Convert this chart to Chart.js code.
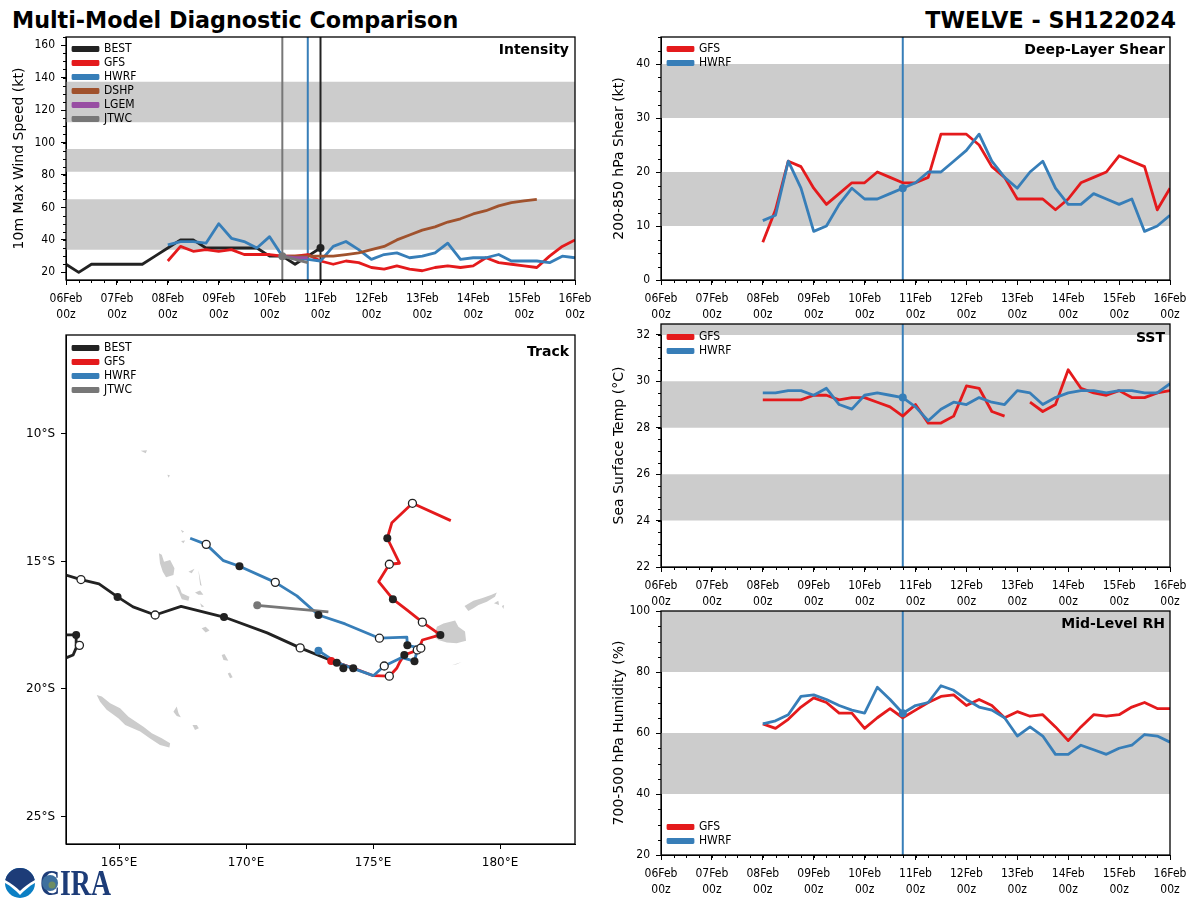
<!DOCTYPE html>
<html>
<head>
<meta charset="utf-8">
<title>Multi-Model Diagnostic Comparison</title>
<script src="https://cdn.jsdelivr.net/npm/chart.js@4/dist/chart.umd.min.js"></script>
<style>
  html, body { margin: 0; padding: 0; background: #fff; }
  #page { position: relative; width: 1200px; height: 900px; overflow: hidden; font-family: "DejaVu Sans", sans-serif; color: #000; }
  canvas { position: absolute; }
  .fig-title { position: absolute; top: 6px; font-size: 22.25px; font-weight: bold; white-space: nowrap; line-height: 28px; }
  .panel-name { position: absolute; font-size: 14px; font-weight: bold; white-space: nowrap; line-height: 16px; }
  #logo { position: absolute; left: 4px; top: 866px; }
</style>
</head>
<body>
<div id="page">
  <div class="fig-title" style="left:12px">Multi-Model Diagnostic Comparison</div>
  <div class="fig-title" style="right:24px">TWELVE - SH122024</div>
  <canvas id="intensity" width="600" height="298" style="left:0;top:27px"></canvas>
  <canvas id="shear" width="600" height="298" style="left:600px;top:27px"></canvas>
  <canvas id="sst" width="600" height="298" style="left:600px;top:314px"></canvas>
  <canvas id="rh" width="600" height="299" style="left:600px;top:601px"></canvas>
  <canvas id="track" width="600" height="564" style="left:0;top:325px"></canvas>
  <div class="panel-name" style="right:631px;top:41px">Intensity</div>
  <div class="panel-name" style="right:35px;top:41px">Deep-Layer Shear</div>
  <div class="panel-name" style="right:631px;top:343px">Track</div>
  <div class="panel-name" style="right:35px;top:329px">SST</div>
  <div class="panel-name" style="right:35px;top:615px">Mid-Level RH</div>
  <svg id="logo" width="112" height="34" viewBox="0 0 112 34">
    <circle cx="16" cy="17" r="15" fill="#0b7fc4"/>
    <path d="M1 17 A15 15 0 0 1 31 17 C25 19 21 22 16 25 C11 22 7 19 1 17 Z" fill="#1d3c78"/>
    <path d="M1 14 C7 17 12 21 16 25 C20 21 25 17 31 14 L31 17 C25 20 20 25 16 29 C12 25 7 20 1 17 Z" fill="#fff"/>
    <text x="36" y="29" font-family="Liberation Serif" font-weight="bold" font-size="36" fill="#1d3c78" textLength="71" lengthAdjust="spacingAndGlyphs">CIRA</text>
    <circle cx="46" cy="17" r="8" fill="#3d6f9e"/>
    <circle cx="48" cy="19" r="3.5" fill="#6d8c62"/>
  </svg>
</div>
<script>
// time axis (hours after 06Feb 00z)
const TICK_HOURS = [0, 24, 48, 72, 96, 120, 144, 168, 192, 216, 240];
const TICK_DAYS = ['06Feb', '07Feb', '08Feb', '09Feb', '10Feb', '11Feb', '12Feb', '13Feb', '14Feb', '15Feb', '16Feb'];

// intensity, kt, one value each 6 h
const BEST_WIND = [25, 20, 25, 25, 25, 25, 25, 30, 35, 40, 40, 35, 35, 35, 35, 35, 30, 30, 25, 30, 35];
const GFS_WIND = [27, 36, 33, 34, 33, 34, 31, 31, 31, 30, 30, 31, 27, 25, 27, 26, 23, 22, 24, 22, 21, 23, 24, 23, 24, 29, 26, 25, 24, 23, 30, 36, 40];
const HWRF_WIND = [37, 39, 39, 38, 50, 41, 39, 35, 42, 30, 29, 28, 27, 36, 39, 34, 28, 31, 32, 29, 30, 32, 38, 28, 29, 29, 31, 27, 27, 27, 26, 30, 29];
const DSHP_WIND = [30, 30, 30, 30, 30, 31, 32, 34, 36, 40, 43, 46, 48, 51, 53, 56, 58, 61, 63, 64, 65];
const LGEM_WIND = [30, 29, 29];
const JTWC_WIND = [30, 28, 26];
const WIND_BANDS = [[34, 65], [82, 96], [112.5, 137.5]];
const WIND_TICKS = [20, 40, 60, 80, 100, 120, 140, 160];

// shear, kt
const GFS_SHEAR = [7, 13, 22, 21, 17, 14, 16, 18, 18, 20, 19, 18, 18, 19, 27, 27, 27, 25, 21, 19, 15, 15, 15, 13, 15, 18, 19, 20, 23, 22, 21, 13, 17];
const HWRF_SHEAR = [11, 12, 22, 17, 9, 10, 14, 17, 15, 15, 16, 17, 18, 20, 20, 22, 24, 27, 22, 19, 17, 20, 22, 17, 14, 14, 16, 15, 14, 15, 9, 10, 12];
const SHEAR_BANDS = [[10, 20], [30, 40]];
const SHEAR_TICKS = [0, 10, 20, 30, 40];

// sea surface temperature, deg C
const GFS_SST = [29.2, 29.2, 29.2, 29.2, 29.4, 29.4, 29.2, 29.3, 29.3, 29.1, 28.9, 28.5, 29.0, 28.2, 28.2, 28.5, 29.8, 29.7, 28.7, 28.5, null, 29.1, 28.7, 29.0, 30.5, 29.7, 29.5, 29.4, 29.6, 29.3, 29.3, 29.5, 29.6];
const HWRF_SST = [29.5, 29.5, 29.6, 29.6, 29.4, 29.7, 29.0, 28.8, 29.4, 29.5, 29.4, 29.3, 28.9, 28.3, 28.8, 29.1, 29.0, 29.3, 29.1, 29.0, 29.6, 29.5, 29.0, 29.3, 29.5, 29.6, 29.6, 29.5, 29.6, 29.6, 29.5, 29.5, 29.9];
const SST_BANDS = [[24, 26], [28, 30], [32, 33]];
const SST_TICKS = [22, 24, 26, 28, 30, 32];

// mid-level humidity, %
const GFS_RH = [63, 61.5, 64.5, 68.5, 71.5, 70, 66.5, 66.5, 61.5, 65, 68, 65, 67.5, 70, 72, 72.5, 69, 71, 69, 65, 67, 65.5, 66, 62, 57.5, 62, 66, 65.5, 66, 68.5, 70, 68, 68];
const HWRF_RH = [63, 64, 66, 72, 72.5, 71, 69, 67.5, 66.5, 75, 71, 66.5, 69, 70, 75.5, 74, 71, 68.5, 67.5, 65, 59, 62, 59, 53, 53, 56, 54.5, 53, 55, 56, 59.5, 59, 57];
const RH_BANDS = [[40, 60], [80, 100]];
const RH_TICKS = [20, 40, 60, 80, 100];

// tracks, [lon, lat]
const BEST_TRACK = [[162.60, -18.86], [162.91, -18.78], [163.19, -18.67], [163.31, -18.39], [163.31, -17.88], [162.28, -17.88], [162.28, -15.33], [162.91, -15.53], [163.50, -15.71], [164.21, -15.88], [164.94, -16.39], [165.55, -16.78], [166.42, -17.10], [167.44, -16.76], [169.13, -17.18], [170.83, -17.80], [172.13, -18.39], [173.57, -18.97], [174.22, -19.19]];
const GFS_TRACK = [[173.35, -18.90], [174.22, -19.18], [175.01, -19.48], [175.64, -19.50], [175.93, -19.19], [176.06, -18.93], [176.23, -18.67], [176.78, -18.47], [176.94, -18.08], [177.65, -17.88], [176.94, -17.38], [176.33, -16.90], [175.78, -16.48], [175.22, -15.79], [175.64, -15.11], [176.04, -15.07], [175.56, -14.09], [175.74, -13.48], [176.55, -12.72], [178.06, -13.40]];
const HWRF_TRACK = [[172.85, -18.50], [173.57, -18.97], [175.01, -19.48], [175.44, -19.10], [176.13, -18.77], [176.63, -18.91], [176.74, -18.47], [176.88, -18.40], [176.35, -18.29], [176.33, -17.97], [175.25, -18.01], [173.90, -17.45], [172.85, -17.10], [172.00, -16.35], [171.15, -15.82], [169.74, -15.19], [169.11, -14.97], [168.43, -14.33], [167.80, -14.09]];
const JTWC_TRACK = [[170.44, -16.72], [173.24, -16.98]];
const TRACK_FILLED = [[163.31, -17.88], [164.94, -16.39], [169.13, -17.18], [173.57, -18.97], [173.83, -19.19], [174.22, -19.19], [175.56, -14.09], [175.78, -16.48], [177.65, -17.88], [176.23, -18.67], [172.85, -17.10], [169.74, -15.19], [176.35, -18.29], [176.63, -18.91]];
const TRACK_OPEN = [[163.44, -18.29], [163.50, -15.71], [166.42, -17.10], [172.13, -18.39], [176.55, -12.72], [175.64, -15.11], [176.94, -17.38], [176.74, -18.47], [175.64, -19.50], [168.43, -14.33], [171.15, -15.82], [175.25, -18.01], [176.88, -18.40], [175.44, -19.10]];
const LON_TICKS = [165, 170, 175, 180];
const LAT_TICKS = [-10, -15, -20, -25];

// land outlines, [lon, lat]
const LAND = [
  [[164.12, -20.24], [164.32, -20.30], [164.65, -20.56], [165.04, -20.76], [165.37, -21.09], [165.96, -21.48], [166.29, -21.74], [166.68, -21.93], [167.01, -22.13], [166.98, -22.30], [166.61, -22.20], [166.22, -21.94], [165.83, -21.67], [165.24, -21.41], [164.97, -21.15], [164.51, -20.82], [164.25, -20.50]],
  [[166.57, -14.68], [166.68, -14.74], [166.77, -15.01], [167.01, -14.94], [167.18, -15.27], [167.14, -15.53], [166.85, -15.62], [166.72, -15.40], [166.61, -15.07]],
  [[167.23, -15.92], [167.38, -16.01], [167.47, -16.25], [167.77, -16.38], [167.73, -16.54], [167.47, -16.48], [167.34, -16.18]],
  [[167.73, -15.40], [167.97, -15.29], [167.86, -15.46]],
  [[168.12, -15.33], [168.25, -15.96], [168.19, -15.92]],
  [[167.99, -16.22], [168.19, -16.14], [168.32, -16.31], [168.12, -16.31]],
  [[168.19, -16.64], [168.35, -16.77], [168.25, -16.80]],
  [[168.25, -17.62], [168.41, -17.56], [168.56, -17.71], [168.41, -17.79]],
  [[169.04, -18.67], [169.15, -18.63], [169.30, -18.89], [169.11, -18.86]],
  [[169.28, -19.39], [169.37, -19.35], [169.47, -19.54], [169.37, -19.58]],
  [[167.43, -13.76], [167.56, -13.83], [167.49, -13.87]],
  [[167.44, -14.20], [167.60, -14.18], [167.53, -14.29]],
  [[165.85, -10.66], [166.10, -10.64], [166.05, -10.76]],
  [[166.90, -11.60], [167.00, -11.62], [166.95, -11.72]],
  [[167.14, -20.89], [167.27, -20.69], [167.34, -20.95], [167.43, -21.11], [167.27, -21.06]],
  [[167.89, -21.41], [168.06, -21.41], [168.14, -21.54], [167.99, -21.61]],
  [[177.51, -17.56], [177.77, -17.43], [178.23, -17.32], [178.36, -17.56], [178.62, -17.75], [178.66, -18.11], [178.29, -18.21], [177.90, -18.18], [177.57, -18.08], [177.41, -17.95]],
  [[178.60, -16.75], [178.95, -16.54], [179.28, -16.44], [179.67, -16.31], [179.87, -16.22], [179.80, -16.38], [179.48, -16.58], [179.15, -16.71], [178.95, -16.84], [178.75, -16.94]],
  [[179.76, -16.64], [179.93, -16.54], [179.96, -16.71]],
  [[180.07, -16.75], [180.16, -16.71], [180.13, -16.86]],
  [[178.10, -19.07], [178.49, -18.94], [178.29, -19.03]]
];

const RED = '#e41a1c', BLUE = '#377eb8', BLACK = '#222222', BROWN = '#a0522d', PURPLE = '#984ea3', GREY = '#777777', BAND = '#cccccc';
const NARROW = "'DejaVu Sans Condensed', 'DejaVu Sans', sans-serif";
const WIDE = "'DejaVu Sans', sans-serif";

const toXY = (start, values) => values.map((y, i) => ({ x: start + i * 6, y: y === null ? NaN : y }));
const toLonLat = pairs => pairs.map(p => ({ x: p[0], y: p[1] }));

// frame, minor ticks, legend placed inside the axes and above the bands
const panelExtras = {
  id: 'panelExtras',
  beforeLayout(chart) {
    const legend = chart.legend;
    legend._layers = () => [{ z: 10, draw: area => legend.draw(area) }];
  },
  afterLayout(chart, args, opts) {
    const a = chart.chartArea;
    chart.legend.left = a.left + 5;
    chart.legend.top = a.top + opts.legendShift;
    chart.legend.bottom = a.bottom + opts.legendShift;
  },
  afterDatasetsDraw(chart, args, opts) {
    const { ctx, chartArea: a, scales } = chart;
    ctx.save();
    ctx.strokeStyle = '#000';
    ctx.lineWidth = 1;
    ctx.beginPath();
    if (opts.minorX) {
      for (let v = scales.x.min; v <= scales.x.max; v += opts.minorX) {
        const px = Math.round(scales.x.getPixelForValue(v)) + 0.5;
        ctx.moveTo(px, a.bottom);
        ctx.lineTo(px, a.bottom + 3);
      }
    }
    if (opts.minorY) {
      const first = Math.ceil(scales.y.min / opts.minorY) * opts.minorY;
      for (let v = first; v <= scales.y.max; v += opts.minorY) {
        const py = Math.round(scales.y.getPixelForValue(v)) + 0.5;
        ctx.moveTo(a.left, py);
        ctx.lineTo(a.left - 3, py);
      }
    }
    ctx.stroke();
    ctx.lineWidth = 1.3;
    ctx.strokeRect(a.left, a.top, a.right - a.left, a.bottom - a.top);
    ctx.restore();
  }
};

function line(label, color, data, order) {
  return { label, data, borderColor: color, backgroundColor: color, borderWidth: 2.8, pointRadius: 0, showLine: true, order, borderJoinStyle: 'round' };
}
function band(range, xMin, xMax) {
  return { data: [{ x: xMin, y: range[1] }, { x: xMax, y: range[1] }], showLine: true, borderWidth: 0, borderColor: 'transparent', pointRadius: 0, backgroundColor: BAND, fill: { value: range[0] }, order: 100 };
}
function marker(points, fill, stroke, order, radius) {
  return { data: points, backgroundColor: fill, borderColor: stroke, borderWidth: stroke === fill ? 0 : 1.3, pointRadius: radius || 4, showLine: false, order };
}
function vline(hour, color, yMin, yMax) {
  return { data: [{ x: hour, y: yMin }, { x: hour, y: yMax }], borderColor: color, borderWidth: 2, pointRadius: 0, showLine: true, order: 50 };
}

function legendOptions(align) {
  return {
    display: true,
    position: 'chartArea',
    align,
    labels: {
      boxWidth: 25, boxHeight: 3, padding: 2, color: '#000',
      font: { family: NARROW, size: 12 },
      filter: item => !!item.text,
      sort: (a, b) => a.datasetIndex - b.datasetIndex
    }
  };
}

function drawChart(id, datasets, o) {
  const tickFont = { family: o.tickFamily || NARROW, size: 12, lineHeight: 1.3 };
  new Chart(document.getElementById(id), {
    type: 'scatter',
    data: { datasets },
    plugins: [panelExtras],
    options: {
      responsive: false,
      animation: false,
      events: [],
      layout: { padding: { left: 0, top: o.top, right: o.right, bottom: 0 } },
      scales: {
        x: {
          type: 'linear', min: o.xMin, max: o.xMax,
          grid: { drawOnChartArea: false, tickLength: 5, tickColor: '#000' },
          border: { color: '#000' },
          afterBuildTicks: axis => { axis.ticks = o.xTicks.map(value => ({ value })); },
          afterFit: axis => { axis.height = o.xHeight; axis.paddingLeft = 0; axis.paddingRight = 0; },
          ticks: { maxRotation: 0, autoSkip: false, color: '#000', font: tickFont, padding: o.xPad, callback: o.xLabel }
        },
        y: {
          type: 'linear', min: o.yMin, max: o.yMax,
          grid: { drawOnChartArea: false, tickLength: 5, tickColor: '#000' },
          border: { color: '#000' },
          afterBuildTicks: axis => { axis.ticks = o.yTicks.map(value => ({ value })); },
          afterFit: axis => { axis.width = o.left; axis.paddingTop = 0; axis.paddingBottom = 0; },
          ticks: { autoSkip: false, color: '#000', font: tickFont, padding: 6, callback: o.yLabel || (v => v) },
          title: { display: !!o.yTitle, text: o.yTitle, color: '#000', font: { family: WIDE, size: 14 }, padding: { top: 11, bottom: 0 } }
        }
      },
      plugins: {
        legend: legendOptions(o.legendAlign || 'start'),
        tooltip: { enabled: false },
        panelExtras: { minorX: o.minorX, minorY: o.minorY, legendShift: o.legendShift }
      }
    }
  });
}

function timePanel(id, series, bands, lines, dots, o) {
  const ds = [];
  series.forEach((s, i) => ds.push(line(s[0], s[1], toXY(s[2], s[3]), 40 - i)));
  bands.forEach(b => ds.push(band(b, 0, 240)));
  lines.forEach(l => ds.push(vline(l[0], l[1], o.yMin, o.yMax)));
  dots.forEach(d => ds.push(marker([{ x: d[0], y: d[1] }], d[2], d[2], 1)));
  drawChart(id, ds, Object.assign({
    xMin: 0, xMax: 240, xTicks: TICK_HOURS, minorX: 6, xHeight: 45, xPad: 6,
    xLabel: (v, i) => [TICK_DAYS[i], '00z']
  }, o));
}

timePanel('intensity',
  [['BEST', BLACK, 0, BEST_WIND], ['GFS', RED, 48, GFS_WIND], ['HWRF', BLUE, 48, HWRF_WIND],
   ['DSHP', BROWN, 102, DSHP_WIND], ['LGEM', PURPLE, 102, LGEM_WIND], ['JTWC', GREY, 102, JTWC_WIND]],
  WIND_BANDS,
  [[102, GREY], [114, BLUE], [120, BLACK]],
  [[120, 35, BLACK], [102, 30, GREY]],
  { top: 10, right: 25, left: 66, yMin: 15.3, yMax: 165, yTicks: WIND_TICKS, minorY: 5, yTitle: '10m Max Wind Speed (kt)', legendShift: 4 });

timePanel('shear',
  [['GFS', RED, 48, GFS_SHEAR], ['HWRF', BLUE, 48, HWRF_SHEAR]],
  SHEAR_BANDS, [[114, BLUE]], [[114, 17, BLUE]],
  { top: 10, right: 30, left: 61, yMin: 0, yMax: 45, yTicks: SHEAR_TICKS, minorY: 2.5, yTitle: '200-850 hPa Shear (kt)', legendShift: 4 });

timePanel('sst',
  [['GFS', RED, 48, GFS_SST], ['HWRF', BLUE, 48, HWRF_SST]],
  SST_BANDS, [[114, BLUE]], [[114, 29.3, BLUE]],
  { top: 10, right: 30, left: 61, yMin: 22, yMax: 32.47, yTicks: SST_TICKS, minorY: 0.5, yTitle: 'Sea Surface Temp (°C)', legendShift: 5 });

timePanel('rh',
  [['GFS', RED, 48, GFS_RH], ['HWRF', BLUE, 48, HWRF_RH]],
  RH_BANDS, [[114, BLUE]], [[114, 66.5, BLUE]],
  { top: 10, right: 30, left: 61, yMin: 20, yMax: 100, yTicks: RH_TICKS, minorY: 5, yTitle: '700-500 hPa Humidity (%)', legendAlign: 'end', legendShift: -6 });

const trackSets = [
  line('BEST', BLACK, toLonLat(BEST_TRACK), 20),
  line('GFS', RED, toLonLat(GFS_TRACK), 19),
  line('HWRF', BLUE, toLonLat(HWRF_TRACK), 18),
  line('JTWC', GREY, toLonLat(JTWC_TRACK), 17),
  marker(toLonLat([GFS_TRACK[0]]), RED, RED, 12),
  marker(toLonLat([HWRF_TRACK[0]]), BLUE, BLUE, 3),
  marker(toLonLat([JTWC_TRACK[0]]), GREY, GREY, 3),
  marker(toLonLat(TRACK_FILLED), BLACK, BLACK, 2),
  marker(toLonLat(TRACK_OPEN), '#ffffff', BLACK, 1)
];
LAND.forEach(shape => {
  trackSets.push({ data: toLonLat(shape), showLine: true, borderWidth: 0, borderColor: BAND, backgroundColor: BAND, pointRadius: 0, fill: 'shape', order: 90 });
});

drawChart('track', trackSets, {
  top: 10, right: 25, left: 66, xHeight: 45, xPad: 6, tickFamily: WIDE,
  xMin: 162.91, xMax: 182.95, xTicks: LON_TICKS, xLabel: v => v + '°E',
  yMin: -26.08, yMax: -6.12, yTicks: LAT_TICKS, yLabel: v => (-v) + '°S',
  legendShift: 5
});
</script>
</body>
</html>
